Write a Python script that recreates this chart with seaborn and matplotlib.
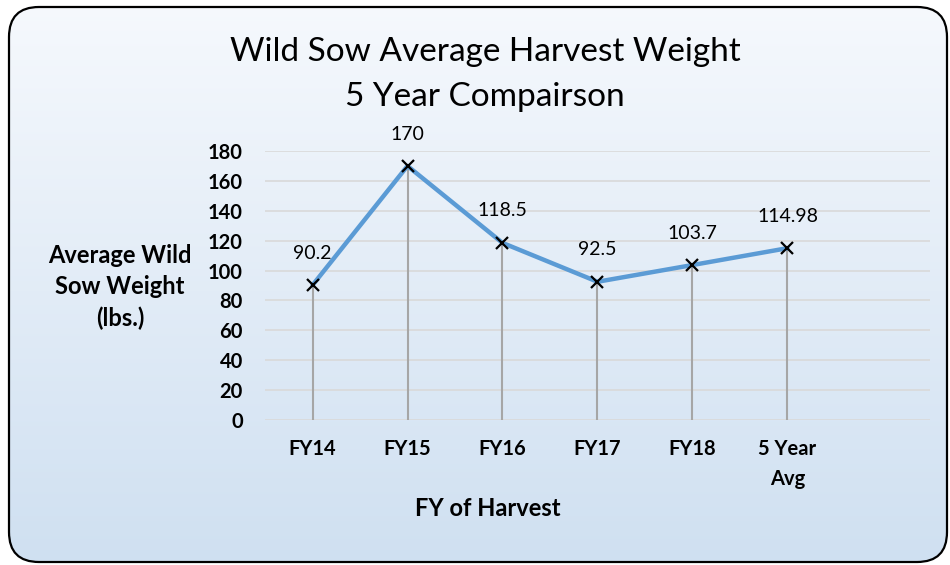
import numpy as np
import pandas as pd
import seaborn as sns
import matplotlib.pyplot as plt
from matplotlib.patches import FancyBboxPatch

# Chart data
categories = ["FY14", "FY15", "FY16", "FY17", "FY18", "5 Year\nAvg"]
weights = [90.2, 170, 118.5, 92.5, 103.7, 114.98]
value_labels = ["90.2", "170", "118.5", "92.5", "103.7", "114.98"]
y_ticks = [0, 20, 40, 60, 80, 100, 120, 140, 160, 180]

df = pd.DataFrame({"pos": range(len(categories)), "weight": weights})

sns.set_theme(style="white")
plt.rcParams["font.family"] = ["Lato", "DejaVu Sans"]
plt.rcParams["text.color"] = "black"

fig = plt.figure(figsize=(9.5, 5.65), dpi=100)
fig.patch.set_facecolor("white")

# rounded frame with vertical gradient fill
bg = fig.add_axes([0, 0, 1, 1])
bg.set_xlim(0, 950)
bg.set_ylim(565, 0)
bg.axis("off")
grad = np.linspace(0, 1, 256).reshape(-1, 1)
top = np.array([0.965, 0.976, 0.992])
bottom = np.array([0.812, 0.878, 0.945])
img = top + (bottom - top) * grad[..., None]
im = bg.imshow(img, extent=[0, 950, 565, 0], aspect="auto", zorder=0)
frame = FancyBboxPatch((9, 7), 938, 555, boxstyle="round,pad=0,rounding_size=30",
                       facecolor="none", edgecolor="black", linewidth=1.6, zorder=2)
bg.add_patch(frame)
im.set_clip_path(frame)

# plot area
ax = fig.add_axes([265 / 950, 1 - 420 / 565, (930 - 265) / 950, (420 - 151) / 565])
ax.set_facecolor("none")

ax.vlines(df["pos"], 0, df["weight"], color="#A6A6A6", linewidth=1.5, zorder=2)
sns.lineplot(data=df, x="pos", y="weight", ax=ax, color="#5B9BD5", linewidth=3.2,
             zorder=3, sort=False)
ax.plot(df["pos"], df["weight"], linestyle="none", marker="x", markersize=9,
        markeredgewidth=1.6, color="black", zorder=4)

for x, y, lab in zip(df["pos"], df["weight"], value_labels):
    ax.annotate(lab, (x, y), xytext=(0, 23), textcoords="offset points",
                ha="center", va="center", fontsize=14, color="black")

ax.set_xlim(-0.5, 6.5)
ax.set_ylim(0, 180)
ax.set_yticks(y_ticks)
ax.set_yticklabels([str(t) for t in y_ticks], fontsize=14.5, fontweight="bold")
ax.set_xticks(range(len(categories)))
ax.set_xticklabels(categories, fontsize=14.5, fontweight="bold", linespacing=1.6)
ax.tick_params(axis="x", pad=14, length=0, colors="black")
ax.tick_params(axis="y", pad=16, length=0, colors="black")
for t in ax.get_xticklabels():
    t.set_va("top")
ax.yaxis.grid(True, color="#D9D9D9", linewidth=1.2)
ax.set_axisbelow(True)
for s in ax.spines.values():
    s.set_visible(False)
ax.set_xlabel("")
ax.set_ylabel("")

fig.text(120 / 950, 1 - 287 / 565, "Average Wild\nSow Weight\n(lbs.)", ha="center",
         va="center", fontsize=17, fontweight="bold", linespacing=1.45)
fig.text(488 / 950, 1 - 509 / 565, "FY of Harvest", ha="center", va="center",
         fontsize=17, fontweight="bold")
fig.text(485 / 950, 1 - 52 / 565, "Wild Sow Average Harvest Weight", ha="center",
         va="center", fontsize=24)
fig.text(485 / 950, 1 - 97 / 565, "5 Year Compairson", ha="center", va="center",
         fontsize=24)

fig.savefig("out.png", dpi=100)
